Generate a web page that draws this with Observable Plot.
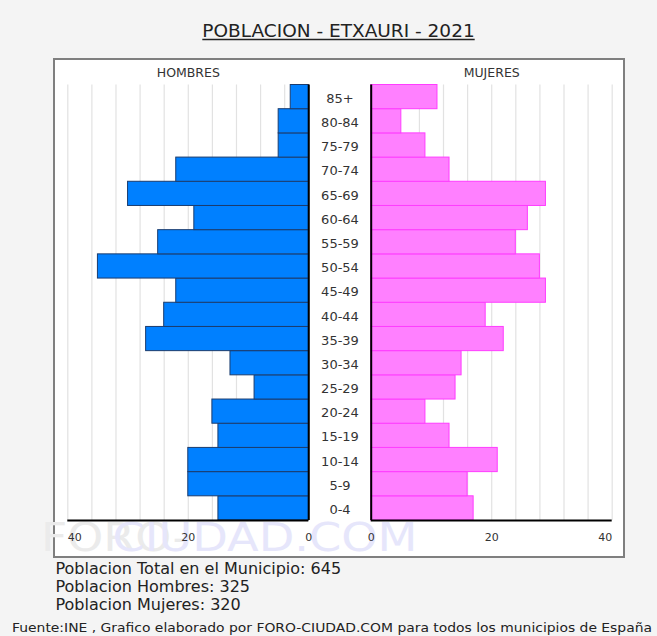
<!DOCTYPE html>
<html><head><meta charset="utf-8">
<script src="https://cdn.jsdelivr.net/npm/d3@7"></script>
<script src="https://cdn.jsdelivr.net/npm/@observablehq/plot@0.6"></script>
<style>
html,body{margin:0;padding:0;}
body{width:657px;height:636px;background:#f4f4f4;position:relative;overflow:hidden;font-family:"DejaVu Sans",Verdana,sans-serif;}
#page{position:absolute;left:0;top:0;}
#box{position:absolute;left:53px;top:58px;width:568px;height:496px;border:2px solid #7f7f7f;background:#fff;}
#box svg{display:block;}
</style></head><body>
<svg id="page" width="657" height="636"></svg>
<div id="box"></div>
<script>
// ---- data (bottom to top) ----
const ages = ["0-4","5-9","10-14","15-19","20-24","25-29","30-34","35-39","40-44","45-49","50-54","55-59","60-64","65-69","70-74","75-79","80-84","85+"];
const hombres = [15,20,20,15,16,9,13,27,24,22,35,25,19,30,22,5,5,3];
const mujeres = [17,16,21,13,9,14,15,22,19,29,28,24,26,29,13,9,5,11];
const tickLabels = [0,20,40];
const gridValues = [4,8,12,16,20,24,28,32,36,40];
const titleText = "POBLACION - ETXAURI - 2021";
const sideLabels = ["HOMBRES","MUJERES"];
const statsLines = ["Poblacion Total en el Municipio: 645","Poblacion Hombres: 325","Poblacion Mujeres: 320"];
const footerText = "Fuente:INE , Grafico elaborado por FORO-CIUDAD.COM para todos los municipios de España";
const watermark = ["FORO-","CIUDAD.COM"];

const G = 5.18; // half gap (in value units) between the two panels
const rows = ages.map((a,i)=>({age:a, i, m:hombres[i], f:mujeres[i]}));
const font = "DejaVu Sans, Verdana, sans-serif";

const chart = Plot.plot({
  width:568, height:496,
  marginLeft:12.3, marginRight:11.3, marginTop:24.5, marginBottom:36,
  x:{domain:[-(40+G), 40+G], axis:null},
  y:{domain:[0, ages.length], axis:null},
  style:{background:"white", fontFamily:font, overflow:"visible"},
  marks:[
    Plot.ruleX(gridValues, {x:v=>-(v+G), y1:0, y2:ages.length, stroke:"#e2e2e2", strokeWidth:1.2}),
    Plot.ruleX(gridValues, {x:v=>v+G, y1:0, y2:ages.length, stroke:"#e2e2e2", strokeWidth:1.2}),
    Plot.rect(rows, {x1:-G, x2:d=>-(d.m+G), y1:"i", y2:d=>d.i+1, fill:"#0080ff", stroke:"#1b3c6e", strokeWidth:1}),
    Plot.rect(rows, {x1:G, x2:d=>d.f+G, y1:"i", y2:d=>d.i+1, fill:"#ff80ff", stroke:"#ff3cff", strokeWidth:1}),
    Plot.ruleX([-G, G], {x:d=>d, y1:0, y2:ages.length, stroke:"#000", strokeWidth:2}),
    Plot.ruleY([0], {x1:-(40+G), x2:-G, y:d=>d, stroke:"#000", strokeWidth:2}),
    Plot.ruleY([0], {x1:G, x2:40+G, y:d=>d, stroke:"#000", strokeWidth:2}),
    Plot.text(rows, {x:0, y:d=>d.i+0.5, text:"age", fontSize:13, fill:"#333", dy:1.5}),
    Plot.text([sideLabels[0]], {x:-(20+G), frameAnchor:"top", lineAnchor:"bottom", dy:-7.8, fontSize:12.5, fill:"#333"}),
    Plot.text([sideLabels[1]], {x:20+G, frameAnchor:"top", lineAnchor:"bottom", dy:-7.8, fontSize:12.5, fill:"#333"}),
    Plot.text(tickLabels.filter(v=>v<40), {x:v=>-(v+G), text:v=>String(v), frameAnchor:"bottom", lineAnchor:"bottom", dy:20, fontSize:11, fill:"#333"}),
    Plot.text(tickLabels.filter(v=>v===40), {x:v=>-(v+G), text:v=>String(v), frameAnchor:"bottom", lineAnchor:"bottom", dy:20, fontSize:11, fill:"#333", textAnchor:"start"}),
    Plot.text(tickLabels.filter(v=>v<40), {x:v=>v+G, text:v=>String(v), frameAnchor:"bottom", lineAnchor:"bottom", dy:20, fontSize:11, fill:"#333"}),
    Plot.text(tickLabels.filter(v=>v===40), {x:v=>v+G, text:v=>String(v), frameAnchor:"bottom", lineAnchor:"bottom", dy:20, fontSize:11, fill:"#333", textAnchor:"end"})
  ]
});
document.getElementById("box").appendChild(chart);

// watermark behind everything
const svg = d3.select(chart);
const wm = svg.insert("g", ":first-child").attr("font-family", font).attr("font-size", 38.5);
wm.append("text").attr("x", 60).attr("y", 491).attr("fill", "#ebebeb").attr("textLength", 148).attr("lengthAdjust","spacingAndGlyphs").text(watermark[0]);
wm.append("text").attr("x", 210).attr("y", 491).attr("fill", "#e6e6fb").attr("textLength", 305).attr("lengthAdjust","spacingAndGlyphs").text(watermark[1]);

// page texts
const page = d3.select("#page").attr("font-family", font);
const t = page.append("text").attr("x", 338.5).attr("y", 37).attr("text-anchor","middle").attr("font-size", 18.5).attr("fill","#222").text(titleText);
const tw = t.node().getComputedTextLength();
page.append("line").attr("x1", 338.5 - tw/2).attr("x2", 338.5 + tw/2).attr("y1", 39.5).attr("y2", 39.5).attr("stroke","#222").attr("stroke-width",1.5);
statsLines.forEach((s,k)=>{
  page.append("text").attr("x", 55.5).attr("y", 574 + 18*k).attr("font-size", 16).attr("fill","#222").text(s);
});
page.append("text").attr("x", 12).attr("y", 632).attr("font-size", 13).attr("fill","#222").attr("textLength", 640).attr("lengthAdjust","spacingAndGlyphs").text(footerText);
</script>
</body></html>
